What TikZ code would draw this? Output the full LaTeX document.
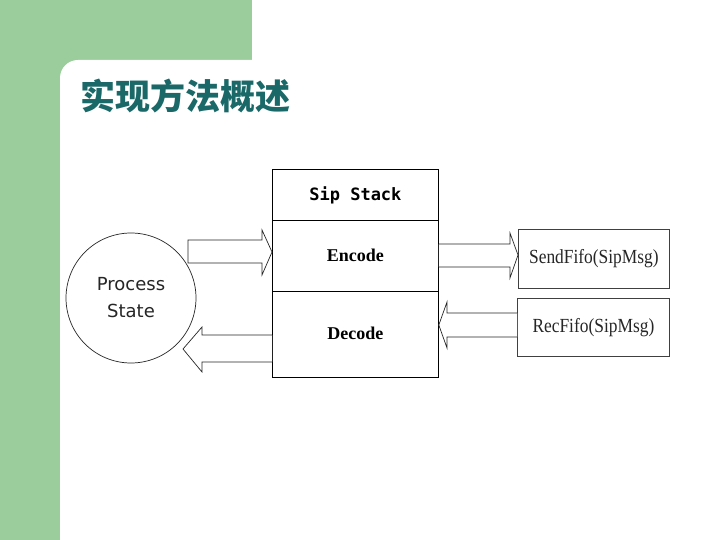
\documentclass[tikz,border=0pt]{standalone}
\usepackage{fontspec}
\newfontfamily\cjk{Noto Sans CJK SC}
\newfontfamily\monof{DejaVu Sans Mono}
\newfontfamily\serf{Liberation Serif}
\newfontfamily\sanf{DejaVu Sans}
\usetikzlibrary{calc}
\definecolor{bggreen}{RGB}{155,204,155}
\definecolor{titleteal}{RGB}{26,104,104}
\tikzset{
  box/.style={draw=black, line width=0.8pt, rectangle, inner sep=0pt, anchor=north west},
  blockarrow/.style={draw=black!85, line width=0.7pt, fill=white, line join=miter},
  fifotext/.style={font={\serf\fontsize{20}{22}\selectfont}, xscale=0.87, text=black!85},
}
\begin{document}
\begin{tikzpicture}[x=1pt,y=-1pt]
\useasboundingbox (0,0) rectangle (720,540);
% background
\fill[bggreen] (0,0) rectangle (720,540);
\fill[white] (60,540) -- (60,78) arc[start angle=180,end angle=270,radius=18] -- (252,60) -- (252,0) -- (720,0) -- (720,540) -- cycle;
% title
\node[anchor=west, text=titleteal, font={\cjk\bfseries\fontsize{35}{38}\selectfont}] (title) at (77,96) {实现方法概述};
% stack
\node[box, minimum width=166pt, minimum height=51pt] (sip) at (272,169) {};
\node[font={\monof\bfseries\fontsize{17}{19}\selectfont}] (siplbl) at (sip.center) {Sip Stack};
\node[box, minimum width=166pt, minimum height=71pt] (enc) at (272,220) {};
\node[font={\serf\bfseries\fontsize{18}{20}\selectfont}] (enclbl) at ($(enc.center)+(0,-1)$) {Encode};
\node[box, minimum width=166pt, minimum height=86pt] (dec) at (272,291) {};
\node[font={\serf\bfseries\fontsize{18}{20}\selectfont}] (declbl) at ($(dec.center)+(0,-1)$) {Decode};
% process
\node[draw=black!85, line width=0.7pt, circle, minimum size=130pt, inner sep=0pt, align=center,
      font={\sanf\fontsize{18}{27}\selectfont\color{black!85}}] (proc) at (131,298) {Process\\State};
% fifo boxes
\node[box, draw=black!75, minimum width=151pt, minimum height=59pt] (send) at (518,229) {};
\node[fifotext] (sendlbl) at (send.center) {SendFifo(SipMsg)};
\node[box, draw=black!75, minimum width=152pt, minimum height=58pt] (rec) at (517,298) {};
\node[fifotext] (reclbl) at (rec.center) {RecFifo(SipMsg)};
% block arrows
% Process -> Encode
\draw[blockarrow] (188,240) -- (262,240) -- (262,230) -- (enc.west |- 0,252) -- (262,275) -- (262,263) -- (188,263) -- cycle;
% Decode -> Process
\draw[blockarrow] (dec.west |- 0,335) -- (202,335) -- (202,327) -- (183,349) -- (202,372) -- (202,362) -- (dec.west |- 0,362);
% Encode -> Send
\draw[blockarrow] (enc.east |- 0,244) -- (510,244) -- (510,233) -- (send.west |- 0,255) -- (510,278) -- (510,267) -- (enc.east |- 0,267);
% Rec -> Decode
\draw[blockarrow] (rec.west |- 0,313) -- (447,313) -- (447,302) -- (dec.east |- 0,325) -- (447,348) -- (447,337) -- (rec.west |- 0,337);
\end{tikzpicture}
\end{document}
